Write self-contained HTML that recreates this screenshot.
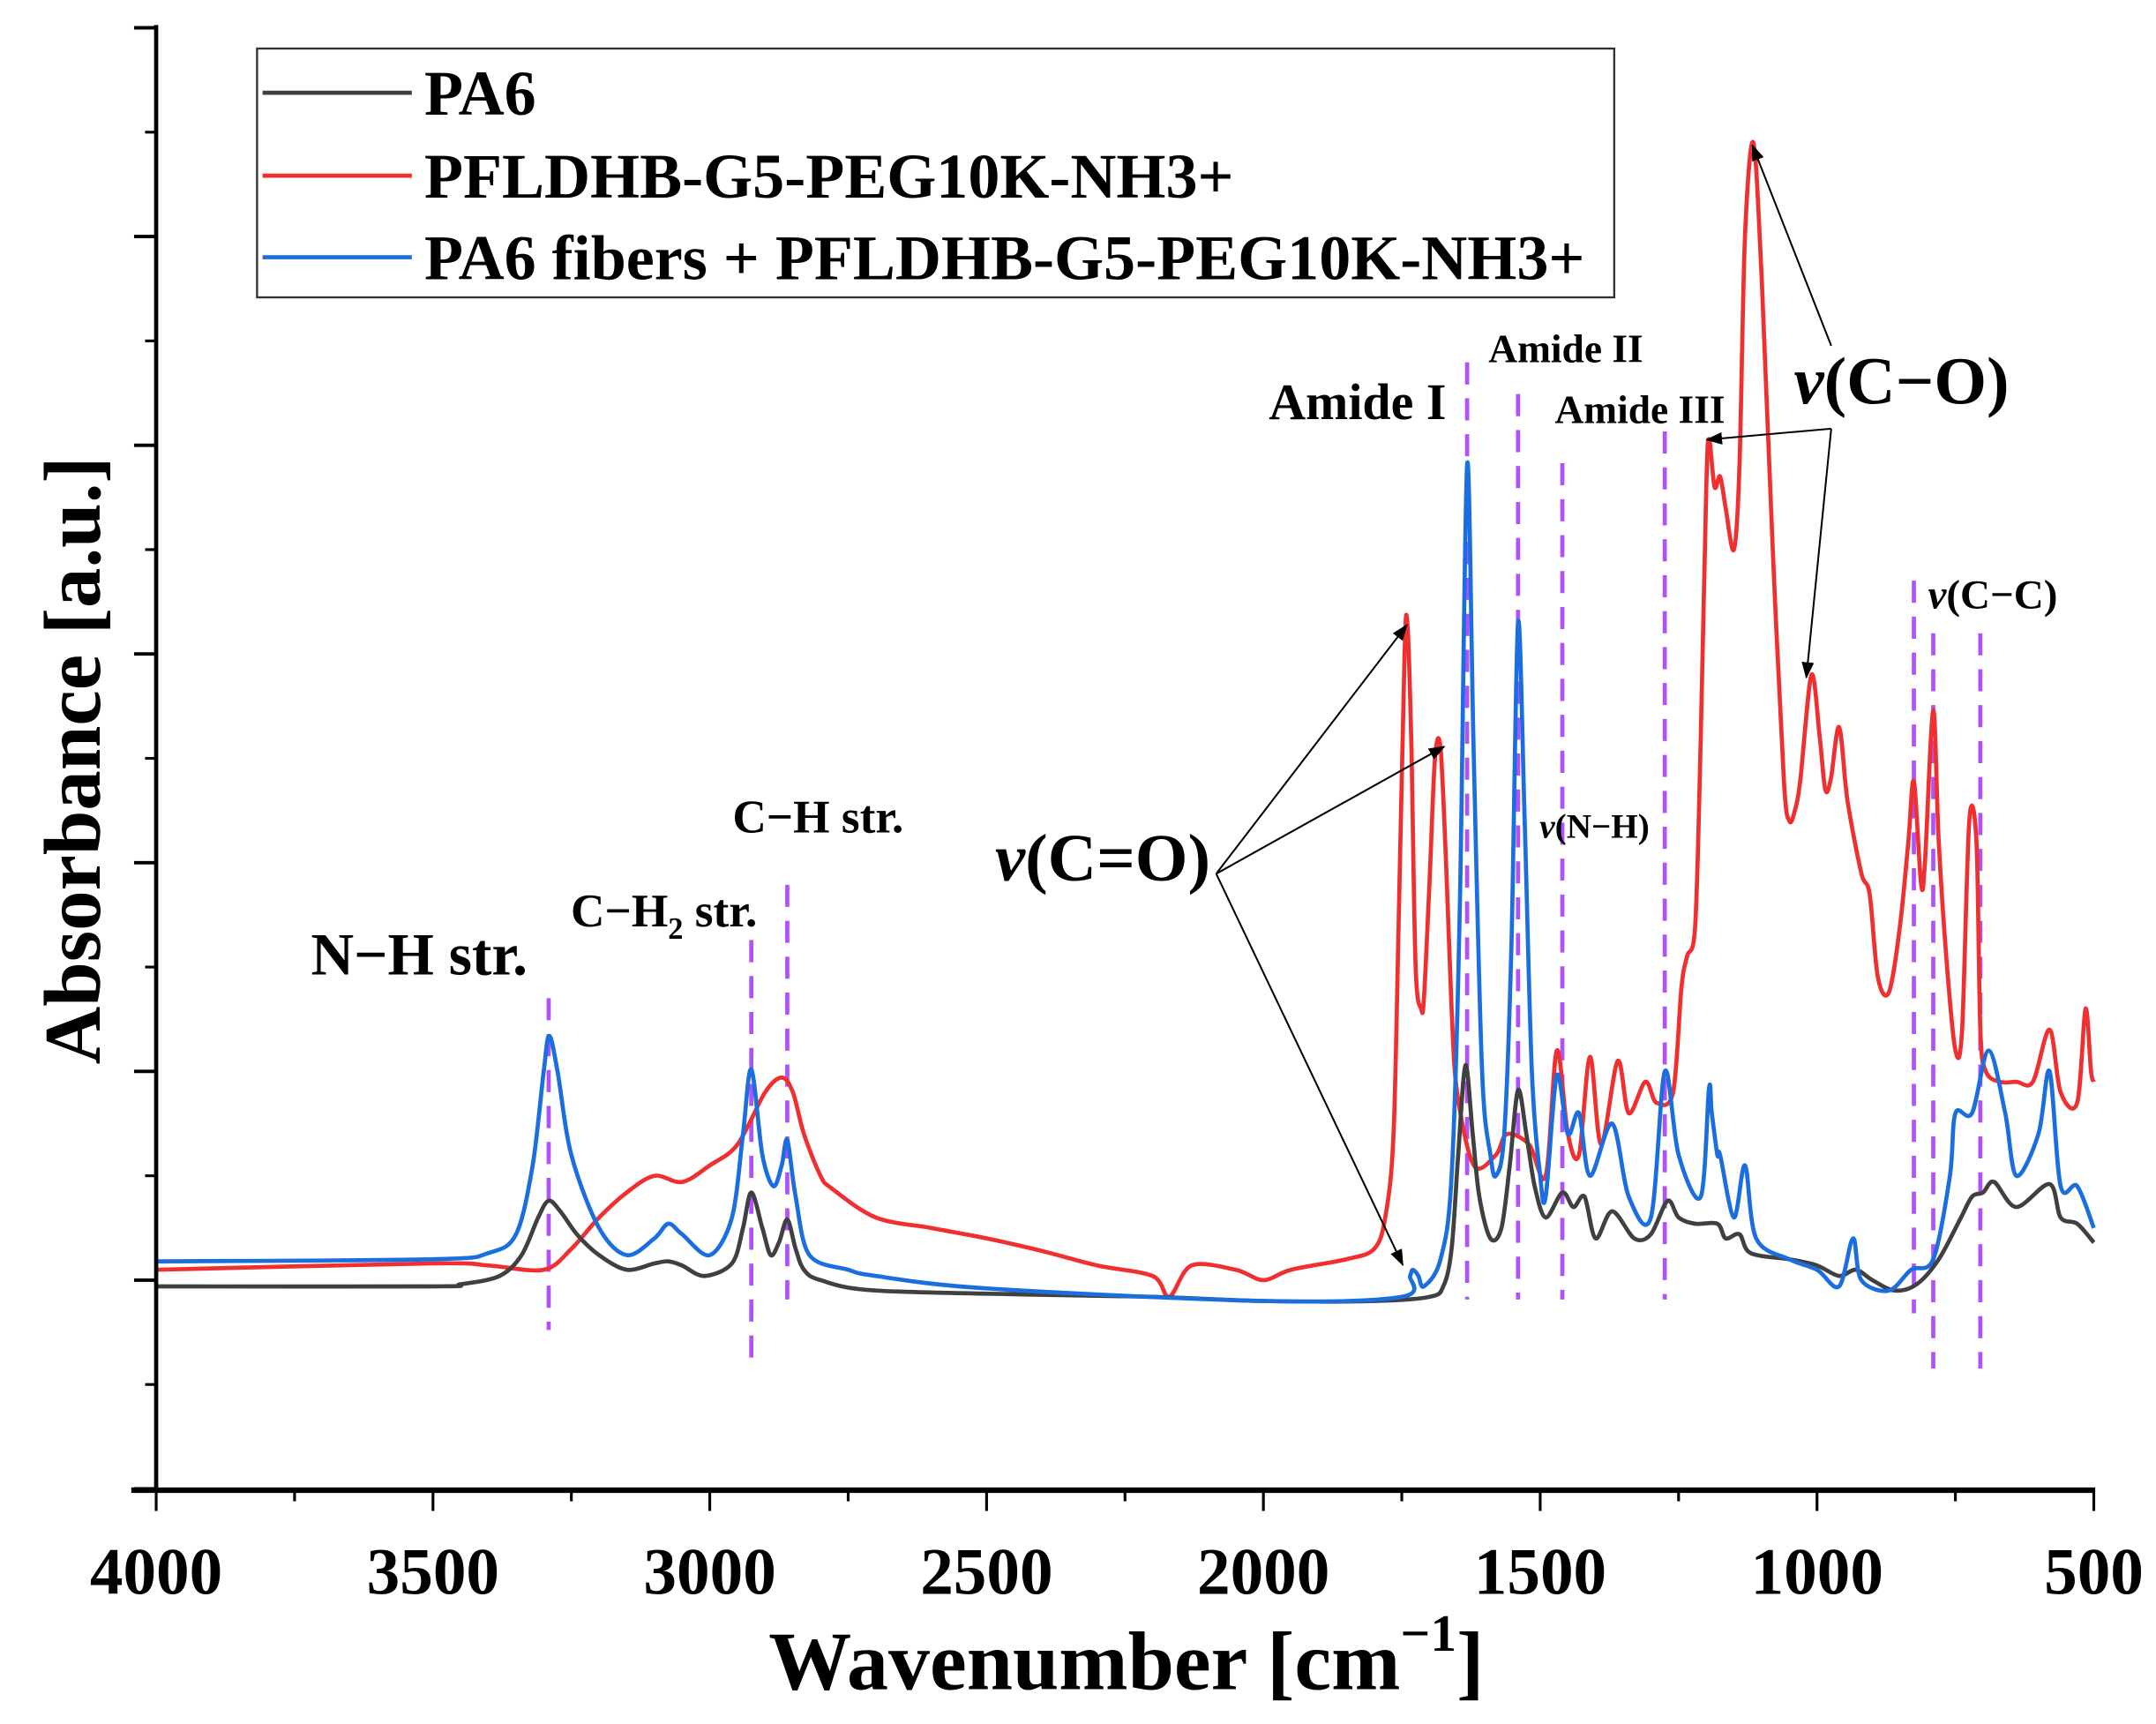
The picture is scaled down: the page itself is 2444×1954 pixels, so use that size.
<!DOCTYPE html>
<html><head><meta charset="utf-8"><style>
html,body{margin:0;padding:0;background:#fff}
svg{display:block}
text{font-family:"Liberation Serif",serif;font-weight:bold;fill:#000}
</style></head><body>
<svg id="chart" width="2444" height="1954" viewBox="0 0 1560 1247" xmlns="http://www.w3.org/2000/svg">
<defs><marker id="ah" markerWidth="12" markerHeight="9" refX="11" refY="4.5" orient="auto" markerUnits="userSpaceOnUse"><path d="M0,0 L12,4.5 L0,9 z" fill="#000"/></marker></defs>
<g id="grid"></g>
<g id="series"></g>
<g id="axes"></g>
<g id="annot"></g>
<rect x="186" y="35" width="982" height="180" fill="#fff" stroke="#333" stroke-width="1.5"/>
<g><line x1="190" y1="67" x2="298" y2="67" stroke="#404040" stroke-width="3"/><text x="307" y="83" font-size="46">PA6</text></g>
<g><line x1="190" y1="127" x2="298" y2="127" stroke="#f03030" stroke-width="3"/><text x="307" y="143" font-size="46">PFLDHB-G5-PEG10K-NH3+</text></g>
<g><line x1="190" y1="186" x2="298" y2="186" stroke="#1a6ee0" stroke-width="3"/><text x="307" y="202" font-size="46">PA6 fibers + PFLDHB-G5-PEG10K-NH3+</text></g>
<text x="815" y="1222" font-size="60" text-anchor="middle">Wavenumber [cm<tspan font-size="38" dy="-28">−1</tspan><tspan dy="28">]</tspan></text>
<text transform="translate(72,550) rotate(-90)" font-size="58" text-anchor="middle">Absorbance [a.u.]</text>
</svg>
<script>
const xTicks=[4000,3500,3000,2500,2000,1500,1000,500];
const pa6W=[4000,3500,3450,3380,3340,3310,3291,3270,3240,3200,3150,3100,3075,3050,3010,2960,2940,2925,2905,2890,2875,2860,2845,2830,2800,2700,2400,2200,2000,1800,1700,1675,1660,1648,1635,1622,1610,1590,1570,1555,1540,1525,1510,1490,1460,1440,1420,1400,1370,1330,1300,1270,1250,1220,1180,1165,1140,1120,1050,1000,960,930,900,860,820,780,740,720,700,680,640,580,560,530,500];
const pa6V=[-0.03,-0.03,-0.02,0.02,0.12,0.3,0.38,0.33,0.22,0.12,0.05,0.08,0.09,0.07,0.02,0.08,0.25,0.42,0.25,0.12,0.18,0.29,0.15,0.05,0.0,-0.05,-0.07,-0.08,-0.1,-0.1,-0.08,-0.03,0.15,0.6,1.03,0.7,0.4,0.2,0.25,0.55,0.91,0.7,0.45,0.3,0.42,0.35,0.4,0.2,0.33,0.2,0.22,0.38,0.3,0.27,0.27,0.2,0.22,0.13,0.1,0.07,0.02,0.05,0,-0.05,-0.02,0.1,0.3,0.4,0.42,0.47,0.35,0.46,0.3,0.27,0.18];
const redW=[4000,3500,3400,3300,3250,3200,3150,3100,3050,3000,2950,2900,2870,2850,2830,2800,2780,2700,2600,2500,2400,2300,2200,2170,2130,2050,2000,1950,1850,1800,1780,1765,1755,1745,1740,1733,1725,1715,1710,1700,1690,1680,1670,1660,1650,1620,1580,1560,1520,1490,1470,1450,1430,1410,1390,1360,1340,1310,1290,1260,1245,1235,1220,1210,1200,1195,1185,1175,1165,1150,1140,1130,1115,1100,1080,1060,1050,1040,1030,1010,995,985,975,960,945,920,905,890,870,850,835,825,812,805,790,780,765,750,738,725,712,705,695,670,640,610,580,560,530,515,505,500];
const redV=[0.05,0.08,0.07,0.05,0.15,0.3,0.42,0.5,0.47,0.55,0.65,0.9,0.97,0.9,0.7,0.5,0.44,0.3,0.25,0.2,0.14,0.07,0.02,-0.08,0.07,0.05,0,0.05,0.1,0.15,0.3,0.7,1.8,3.0,3.15,2.6,1.5,1.3,1.35,1.9,2.5,2.55,2.0,1.3,0.9,0.55,0.6,0.7,0.65,0.5,1.1,0.7,0.6,1.07,0.65,1.05,0.8,0.95,0.85,0.9,1.4,1.55,1.7,2.6,3.8,4.03,3.8,3.85,3.7,3.5,3.9,5.0,5.45,4.8,3.5,2.4,2.2,2.25,2.4,2.9,2.6,2.35,2.4,2.65,2.3,1.95,1.85,1.45,1.38,1.7,2.1,2.39,1.9,2.0,2.73,2.1,1.5,1.1,1.2,2.2,2.1,1.2,1.0,0.95,0.95,0.95,1.2,0.9,0.85,1.3,1.0,0.95];
const blueW=[4000,3500,3400,3350,3320,3300,3290,3275,3250,3200,3150,3100,3075,3050,3000,2960,2940,2925,2905,2885,2870,2860,2845,2820,2750,2700,2500,2000,1750,1735,1730,1720,1710,1680,1660,1645,1632,1620,1605,1590,1580,1565,1552,1540,1528,1515,1500,1490,1470,1450,1430,1410,1370,1340,1300,1275,1250,1210,1195,1190,1180,1175,1150,1130,1110,1050,1000,960,935,920,870,830,790,760,750,720,690,660,640,600,580,560,530,500];
const blueV=[0.09,0.1,0.13,0.22,0.55,1.0,1.17,1.0,0.6,0.25,0.12,0.2,0.27,0.22,0.12,0.3,0.7,1.01,0.6,0.45,0.55,0.67,0.4,0.12,0.05,0.02,-0.04,-0.1,-0.08,0.02,0.05,0.02,-0.03,0.1,0.5,1.8,3.91,2.5,1.0,0.6,0.5,0.7,1.6,3.15,2.2,1.0,0.5,0.4,0.98,0.7,0.8,0.5,0.75,0.4,0.3,1.0,0.6,0.4,0.92,0.8,0.6,0.6,0.3,0.55,0.2,0.1,0.05,-0.03,0.2,0,-0.05,0.05,0.1,0.5,0.8,0.8,1.1,0.8,0.5,0.7,1.0,0.45,0.45,0.25];
const markW=[3291,2925,2860,1632,1540,1460,1275,825,790,705];
const X0=113,X1=1515,Y0=926,UNIT=151;
function xs(w){return X0+(4000-w)/3500*(X1-X0);}
function ys(v){return Y0-v*UNIT;}
const NS='http://www.w3.org/2000/svg';
function mk(t,a,p){const e=document.createElementNS(NS,t);for(const k in a)e.setAttribute(k,a[k]);p.appendChild(e);return e;}
const axes=document.getElementById('axes'),ser=document.getElementById('series'),grid=document.getElementById('grid'),an=document.getElementById('annot');
let e=mk('line',{x1:X0,y1:18,x2:X0,y2:1079,stroke:'#000','stroke-width':3},axes);


e=mk('line',{x1:95,y1:1078,x2:X1+1,y2:1078,stroke:'#000','stroke-width':4},axes);


for(let i=-1;i<=6;i++){const y=ys(i);mk('line',{x1:X0-16,y1:y,x2:X0,y2:y,stroke:'#000','stroke-width':2.5},axes);
 if(i<6)mk('line',{x1:X0-8,y1:y-UNIT/2,x2:X0,y2:y-UNIT/2,stroke:'#000','stroke-width':2},axes);}
xTicks.forEach((w,i)=>{const x=xs(w);mk('line',{x1:x,y1:1078,x2:x,y2:1093,stroke:'#000','stroke-width':2},axes);
 if(i<xTicks.length-1)mk('line',{x1:xs(w-250),y1:1078,x2:xs(w-250),y2:1086,stroke:'#000','stroke-width':2},axes);
 const t=mk('text',{x:x,y:1153,'font-size':48,'text-anchor':'middle'},axes);t.textContent=w;
 
 });
const lims={3291:[722,962],2925:[680,990],2860:[640,940],1632:[262,940],1540:[285,940],1460:[335,940],1275:[312,940],825:[420,950],790:[458,990],705:[458,990]};
markW.forEach(w=>{const r=lims[w]||[300,985];const l=mk('line',{x1:xs(w),y1:r[0],x2:xs(w),y2:r[1],stroke:'#b050ff','stroke-width':3,'stroke-dasharray':'16 10'},grid);
 
 });
function series(W,V,col,name){
 const P=W.map((w,i)=>[xs(w),ys(V[i])]);
 let d='M'+P[0][0].toFixed(1)+','+P[0][1].toFixed(1);
 for(let i=0;i<P.length-1;i++){const p0=P[Math.max(0,i-1)],p1=P[i],p2=P[i+1],p3=P[Math.min(P.length-1,i+2)];
  const k=0.16;
  const c1=[p1[0]+(p2[0]-p0[0])*k,p1[1]+(p2[1]-p0[1])*k],c2=[p2[0]-(p3[0]-p1[0])*k,p2[1]-(p3[1]-p1[1])*k];
  d+=' C'+c1[0].toFixed(1)+','+c1[1].toFixed(1)+' '+c2[0].toFixed(1)+','+c2[1].toFixed(1)+' '+p2[0].toFixed(1)+','+p2[1].toFixed(1);}
 const p=mk('path',{d:d,fill:'none',stroke:col,'stroke-width':3,'stroke-linejoin':'round'},ser);
 
 }
series(redW,redV,'#f03030','series-pfldhb');
series(pa6W,pa6V,'#404040','series-pa6');
series(blueW,blueV,'#1a6ee0','series-pa6-fibers');
const labels=[["N−H str.",225,705,43],["C−H str.",530,602,34],["Amide I",918,303,37],["Amide II",1077,262,29],["Amide III",1125,306,29]];
labels.forEach(a=>{const t=mk('text',{x:a[1],y:a[2],'font-size':a[3]},an);t.textContent=a[0];
 
 });
let t=mk('text',{x:413,y:670,'font-size':34},an);t.innerHTML='C−H<tspan font-size="22" dy="9">2</tspan><tspan dy="-9"> str.</tspan>';


t=mk('text',{x:1114,y:606,'font-size':25},an);t.innerHTML='<tspan font-style="italic">ν</tspan>(N−H)';


t=mk('text',{x:1395,y:440,'font-size':30},an);t.innerHTML='<tspan font-style="italic">ν</tspan>(C−C)';


t=mk('text',{x:720,y:637,'font-size':49},an);t.innerHTML='<tspan font-style="italic">ν</tspan>(C=O)';


t=mk('text',{x:1298,y:292,'font-size':49},an);t.innerHTML='<tspan font-style="italic">ν</tspan>(C−O)';


const arrows=[[880,632,1018,452],[880,632,1045,540],[880,632,1015,915],[1325,250,1268,105],[1325,310,1235,318],[1325,310,1307,490]];
arrows.forEach(a=>{const l=mk('line',{x1:a[0],y1:a[1],x2:a[2],y2:a[3],stroke:'#000','stroke-width':1.3,'marker-end':'url(#ah)'},an);
 
 });
</script>
</body></html>
